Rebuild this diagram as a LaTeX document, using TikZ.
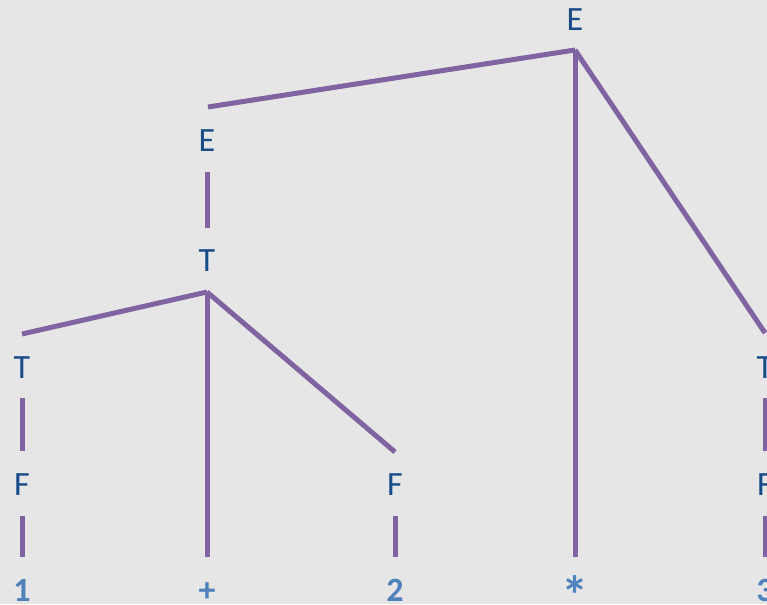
\documentclass[tikz,border=0pt]{standalone}
\usepackage{fontspec}
\setmainfont{Carlito}
\usetikzlibrary{calc}
\definecolor{bgc}{HTML}{E6E6E6}
\definecolor{edgec}{HTML}{8064A2}
\definecolor{ntc}{HTML}{174C88}
\definecolor{tc}{HTML}{4F81BD}
\begin{document}
\begin{tikzpicture}[x=1pt,y=1pt,
  nt/.style={anchor=base,inner sep=0pt,text=ntc,font=\fontsize{34}{40}\selectfont},
  term/.style={anchor=base,inner sep=0pt,text=tc,font=\fontsize{34}{40}\selectfont\bfseries},
  edge/.style={draw=edgec,line width=5pt}]
\useasboundingbox (0,0) rectangle (767,604);
\clip (0,0) rectangle (767,604);
\fill[bgc] (0,0) rectangle (767,604);
% nonterminals
\node[nt] (Etop) at (575,573) {E};
\node[nt] (Emid) at (207,452) {E};
\node[nt] (Tmid) at (207,332) {T};
\node[nt] (Tl) at (22,225) {T};
\node[nt] (Fl) at (22,108) {F};
\node[nt] (Fm) at (395,108) {F};
\node[nt] (Tr) at (765,225) {T};
\node[nt] (Fr) at (765,108) {F};
% terminals
\node[term] (one) at (22,2) {1};
\node[term] (plus) at (207,2) {+};
\node[term] (two) at (395,2) {2};
\node[term] (star) at (575,-10) {\scalebox{1.6}{*}};
\node[term] (three) at (765,2) {3};
% edges
\draw[edge] ($(Etop.base)+(0,-19)$) -- ($(Emid.base)+(1,45)$);
\draw[edge] ($(Etop.base)+(0,-19)$) -- ($(star.base)+(0,57)$);
\draw[edge] ($(Etop.base)+(0,-19)$) -- ($(Tr.base)+(0,46)$);
\draw[edge] ($(Emid.base)+(0,-20)$) -- ($(Tmid.base)+(0,44)$);
\draw[edge] ($(Tmid.base)+(0,-20)$) -- ($(Tl.base)+(0,45)$);
\draw[edge] ($(Tmid.base)+(0,-20)$) -- ($(plus.base)+(0,45)$);
\draw[edge] ($(Tmid.base)+(0,-20)$) -- ($(Fm.base)+(0,44)$);
\draw[edge] ($(Tl.base)+(0,-19)$) -- ($(Fl.base)+(0,45)$);
\draw[edge] ($(Fl.base)+(0,-20)$) -- ($(one.base)+(0,45)$);
\draw[edge] ($(Fm.base)+(0,-20)$) -- ($(two.base)+(0,45)$);
\draw[edge] ($(Tr.base)+(0,-19)$) -- ($(Fr.base)+(0,45)$);
\draw[edge] ($(Fr.base)+(0,-20)$) -- ($(three.base)+(0,45)$);
\end{tikzpicture}
\end{document}
